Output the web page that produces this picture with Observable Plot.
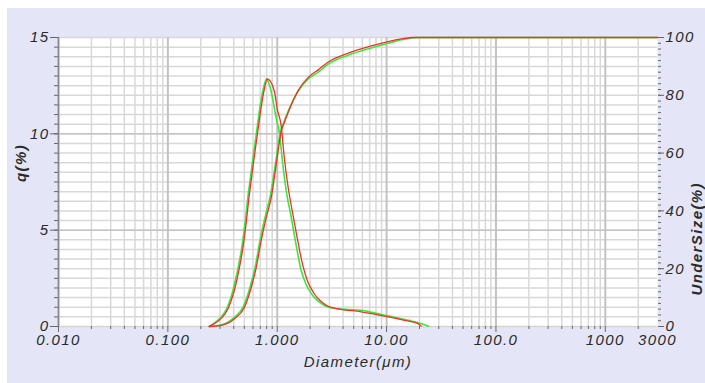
<!DOCTYPE html>
<html><head><meta charset="utf-8">
<script src="https://cdn.jsdelivr.net/npm/d3@7"></script>
<script src="https://cdn.jsdelivr.net/npm/@observablehq/plot@0.6"></script>
<style>
body{margin:0;background:#fff;}
#bg{position:absolute;left:7px;top:8px;width:698px;height:375px;background:#e4e6f7;}
#chart{position:absolute;left:0;top:0;}
</style></head><body><div id="bg"></div><div id="chart"></div>
<script>
// Frequency q(%) – red series
const qDiameterRed = [0.239,0.2655,0.3077,0.3565,0.4045,0.4494,0.489,0.5207,0.5546,0.5785,0.6163,0.6704,0.7142,0.7607,0.8102,0.86,0.90,0.95,1.0,1.088,1.159,1.26,1.371,1.523,1.692,1.88,2.178,2.52,2.925,3.61,5.86,10.34,15.1,19.4,20.7];
const qRed         = [0,0.15,0.42,0.95,1.85,3.0,4.2,5.4,6.8,7.6,8.8,10.3,11.4,12.3,12.85,12.75,12.55,12.1,11.3,10.4,8.8,7.2,6.0,4.6,3.3,2.4,1.7,1.3,1.05,0.92,0.76,0.5,0.3,0.15,0.02];
// Frequency q(%) – green series
const qDiameterGreen = [0.239,0.262,0.302,0.35,0.397,0.441,0.48,0.511,0.544,0.568,0.605,0.658,0.70,0.747,0.80,0.84,0.88,0.93,0.98,1.05,1.12,1.22,1.33,1.48,1.64,1.83,2.12,2.45,2.85,3.55,4.5,5.86,7.5,10.34,15.1,19.4,22,24.3];
const qGreen         = [0,0.15,0.45,1.0,1.95,3.1,4.3,5.5,6.9,7.7,8.9,10.4,11.5,12.35,12.85,12.6,12.2,11.5,10.8,10.0,8.5,6.9,5.8,4.3,3.0,2.2,1.6,1.25,1.02,0.92,0.88,0.84,0.72,0.55,0.35,0.2,0.1,0];
// Cumulative UnderSize(%) – red series
const uDiameterRed = [0.239,0.3077,0.4045,0.4994,0.5785,0.6427,0.7142,0.7933,0.8815,0.979,1.088,1.159,1.287,1.556,1.92,2.371,2.925,4.457,7.23,10.34,13.6,17.9,3000];
const uRed         = [0,0.4,2.6,6.5,13.5,20.4,29.8,37.7,44.6,56,67.5,70.5,75,81.7,86.2,88.8,91.5,94.6,97.1,98.6,99.5,100,100];
// Cumulative UnderSize(%) – green series
const uDiameterGreen = [0.239,0.303,0.398,0.49,0.568,0.632,0.70,0.78,0.868,0.965,1.072,1.145,1.27,1.54,1.9,2.37,2.925,4.457,7.23,10.34,13.6,19,3000];
const uGreen         = [0,0.5,2.9,6.9,14,21,30.3,38.3,45.5,56.5,67.5,70.5,74.8,81.2,85.5,88.0,90.8,93.9,96.4,98.0,99.2,100,100];

// Axis ticks
const xTickValues = [0.01,0.1,1,10,100,1000,3000];
const xTickLabels = ["0.010","0.100","1.000","10.00","100.0","1000","3000"];
const qTicks = [0,5,10,15];
const uTicks = [0,20,40,60,80,100];
const qMax = 15, uMax = 100;

const k = qMax / uMax;
const decades = [0.01,0.1,1,10,100,1000];
const minorX = decades.flatMap(d => [2,3,4,5,6,7,8,9].map(m => m*d)).filter(v => v < 2999);
const toRows = (xs, ys, f=1) => xs.map((d,i) => ({d, v: ys[i]*f}));
const xLabelRows = xTickValues.map((v,i) => ({v, t: xTickLabels[i]}));
const red = "#e8342c", green = "#3ee63e";

const plot = Plot.plot({
  width: 705, height: 383,
  marginLeft: 58, marginRight: 48, marginTop: 37, marginBottom: 57,
  style: {background: "transparent", fontFamily: "'Liberation Sans', Arial, sans-serif", fontSize: "15px", fontStyle: "italic", color: "#2a2a2a", letterSpacing: "1.4px", overflow: "visible"},
  x: {type: "log", domain: [0.01, 3000]},
  y: {domain: [0, qMax]},
  marks: [
    Plot.frame({fill: "white", stroke: null}),
    Plot.ruleY(d3.range(0, qMax + 0.01, 0.5), {stroke: "#d8d8d8", strokeWidth: 1.5}),
    Plot.ruleX(minorX, {stroke: "#d8d8d8", strokeWidth: 1.5}),
    Plot.ruleX(decades, {stroke: "#c2c2c2", strokeWidth: 2}),
    Plot.ruleY([5, 10], {stroke: "#c4c4c4", strokeWidth: 1.5}),
    Plot.ruleY([0], {stroke: "#d0d0c0", strokeDasharray: "2,2"}),
    Plot.ruleX([0.01], {stroke: "#888", strokeWidth: 1.5}),
    Plot.line(toRows(qDiameterGreen, qGreen), {x: "d", y: "v", stroke: green, strokeWidth: 1.6, curve: "monotone-x"}),
    Plot.line(toRows(uDiameterGreen, uGreen, k), {x: "d", y: "v", stroke: green, strokeWidth: 1.6, curve: "monotone-x"}),
    Plot.line(toRows(qDiameterRed, qRed), {x: "d", y: "v", stroke: red, strokeWidth: 1.3, curve: "monotone-x"}),
    Plot.line(toRows(uDiameterRed, uRed, k), {x: "d", y: "v", stroke: red, strokeWidth: 1.3, curve: "monotone-x"}),
    // bottom axis
    Plot.axisX(minorX, {anchor: "bottom", tickSize: 3, tickFormat: () => "", stroke: "#666", label: null}),
    Plot.axisX(decades, {anchor: "bottom", tickSize: 6, tickFormat: () => "", stroke: "#666", label: null}),
    Plot.text(xLabelRows, {x: "v", text: "t", frameAnchor: "bottom", dy: 18, fill: "#2a2a2a"}),
    // left axis
    Plot.axisY(d3.range(0, qMax + 0.01, 0.5), {anchor: "left", tickSize: 4, tickFormat: () => "", stroke: "#666", label: null}),
    Plot.axisY(qTicks, {anchor: "left", tickSize: 8, tickPadding: 1, stroke: "#666", fill: "#2a2a2a", label: null}),
    // right axis
    Plot.axisY(d3.range(0, uMax + 0.01, 2).map(u => u*k), {anchor: "right", tickSize: 3, tickFormat: () => "", stroke: "#666", label: null}),
    Plot.axisY(uTicks.map(u => u*k), {anchor: "right", tickSize: 6, tickPadding: 2, tickFormat: d => String(Math.round(d / k)), stroke: "#666", fill: "#2a2a2a", label: null}),
    // titles
    Plot.text(["Diameter(μm)"], {frameAnchor: "bottom", dy: 40, text: d => d, fill: "#2a2a2a"}),
    Plot.text(["q(%)"], {frameAnchor: "left", dx: -37, rotate: -90, text: d => d, fill: "#2a2a2a", fontWeight: "bold"}),
    Plot.text(["UnderSize(%)"], {frameAnchor: "right", dx: 40, rotate: -90, text: d => d, fill: "#2a2a2a", fontWeight: "bold"})
  ]
});
document.getElementById("chart").appendChild(plot);
</script></body></html>
